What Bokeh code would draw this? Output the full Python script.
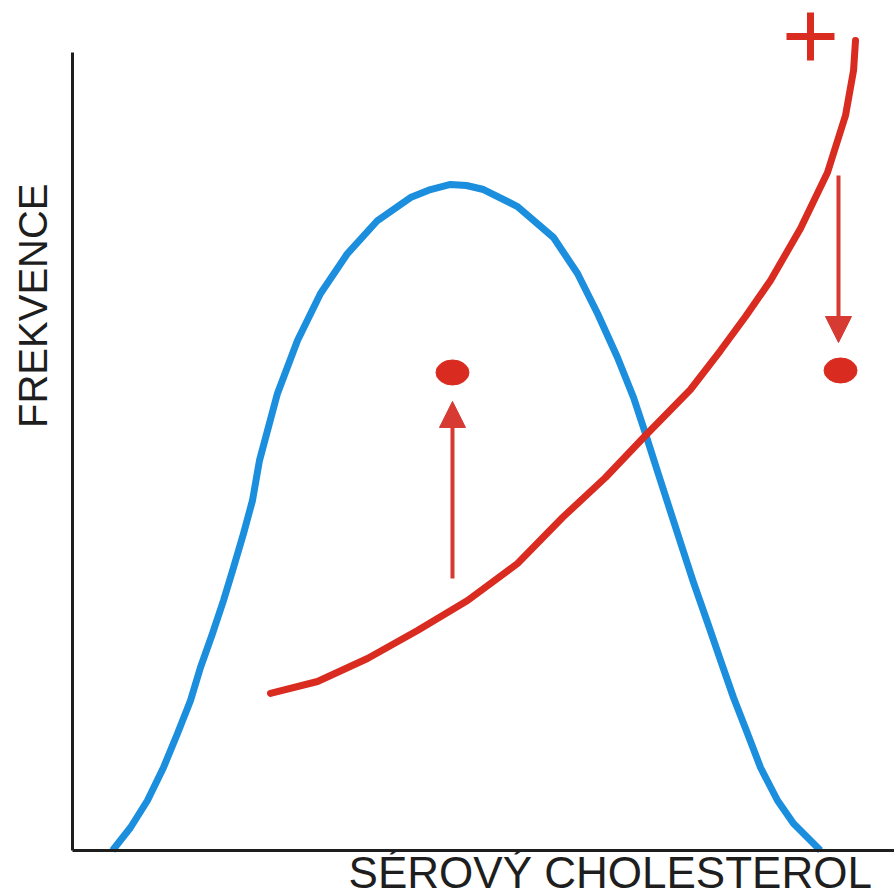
from bokeh.plotting import figure
from bokeh.models import Range1d, Label, Arrow, NormalHead, FixedTicker, LinearAxis
from bokeh.embed import file_html
from bokeh.resources import INLINE

# ---- data (x: serum cholesterol, y: frequency; arbitrary 0-100 units) ----
blue_x = [4.91, 7.13, 9.21, 11.18, 12.90, 14.50, 15.72, 17.20, 18.55, 19.78,
          21.01, 22.11, 22.97, 25.18, 27.64, 30.47, 33.78, 37.47, 41.52, 43.98,
          46.44, 48.40, 50.49, 54.67, 59.09, 62.04, 64.50, 66.95, 68.92, 70.39,
          71.87, 73.22, 74.69, 76.29, 78.01, 79.61, 81.20, 82.92, 84.52, 86.61,
          88.57, 91.89]
blue_y = [0.0, 2.73, 5.94, 9.86, 13.90, 17.81, 21.73, 25.77, 29.69, 33.61,
          37.65, 41.57, 46.32, 54.28, 60.57, 66.15, 70.90, 74.82, 77.55, 78.50,
          79.10, 78.98, 78.50, 76.48, 72.80, 68.53, 63.78, 58.55, 53.80, 49.52,
          45.01, 40.97, 36.58, 31.83, 27.08, 22.57, 18.17, 13.90, 9.86, 5.94,
          3.21, 0.0]

red_x = [24.32, 30.10, 36.24, 42.38, 48.53, 54.67, 60.20, 65.48, 70.39, 75.92,
         79.61, 82.68, 85.75, 89.43, 92.75, 94.96, 95.95, 96.19]
red_y = [18.65, 20.07, 22.80, 26.13, 29.69, 34.09, 39.55, 44.30, 49.29, 54.75,
         59.38, 63.42, 67.70, 73.87, 80.52, 87.29, 92.64, 96.20]

dot_x = [46.68, 94.35]
dot_y = [56.77, 57.01]

arrow_x = [46.68, 94.10]
arrow_from = [32.30, 80.17]
arrow_to = [53.33, 60.33]

plus_x = [90.66]
plus_y = [96.67]

x_title = "SÉROVÝ CHOLESTEROL"
y_title = "FREKVENCE"

BLUE = "#1b8fdd"
RED = "#d92b1f"
ARROW_RED = "#d63a32"
INK = "#1e1e1e"

p = figure(width=894, height=896,
           x_range=Range1d(-8.845, 100.98), y_range=Range1d(-5.463, 100.95),
           output_backend="svg", toolbar_location=None,
           x_axis_location=None, y_axis_location=None,
           min_border_left=0, min_border_right=0,
           min_border_top=0, min_border_bottom=0)
p.background_fill_color = "white"
p.border_fill_color = "white"
p.outline_line_color = None
p.xgrid.visible = False
p.ygrid.visible = False

xaxis = LinearAxis(fixed_location=0, bounds=(0, 101))
yaxis = LinearAxis(fixed_location=0, bounds=(0, 94.8))
for ax in (xaxis, yaxis):
    ax.ticker = FixedTicker(ticks=[])
    ax.major_label_text_font_size = "0px"
    ax.major_tick_line_color = None
    ax.minor_tick_line_color = None
    ax.major_tick_out = 0
    ax.major_tick_in = 0
    ax.axis_line_color = INK
    ax.axis_line_width = 3
p.add_layout(xaxis, "below")
p.add_layout(yaxis, "left")

p.line(blue_x, blue_y, line_color=BLUE, line_width=7, line_join="round")
p.line(red_x, red_y, line_color=RED, line_width=7, line_join="round", line_cap="round")

p.ellipse(x=dot_x, y=dot_y, width=33, height=25,
          width_units="screen", height_units="screen",
          fill_color=RED, line_color=RED)

for xa, y0, y1 in zip(arrow_x, arrow_from, arrow_to):
    p.add_layout(Arrow(end=NormalHead(size=26, fill_color=ARROW_RED, line_color=ARROW_RED),
                       x_start=xa, y_start=y0, x_end=xa, y_end=y1,
                       line_color=ARROW_RED, line_width=4))

# the "+" sign (risk-factor marker)
p.scatter(x=plus_x, y=plus_y, marker="cross", size=48,
          line_color=RED, line_width=7)

p.add_layout(Label(x=-4.91, y=64.7, text=y_title, angle=90, angle_units="deg",
                   text_align="center", text_baseline="alphabetic",
                   text_font="Liberation Sans", text_font_size="40px",
                   text_color=INK))
p.add_layout(Label(x=98.2, y=-2.6, text=x_title,
                   text_align="right", text_baseline="alphabetic",
                   text_font="Liberation Sans", text_font_size="44px",
                   text_color=INK))

open("out.html", "w").write(file_html(p, INLINE))
